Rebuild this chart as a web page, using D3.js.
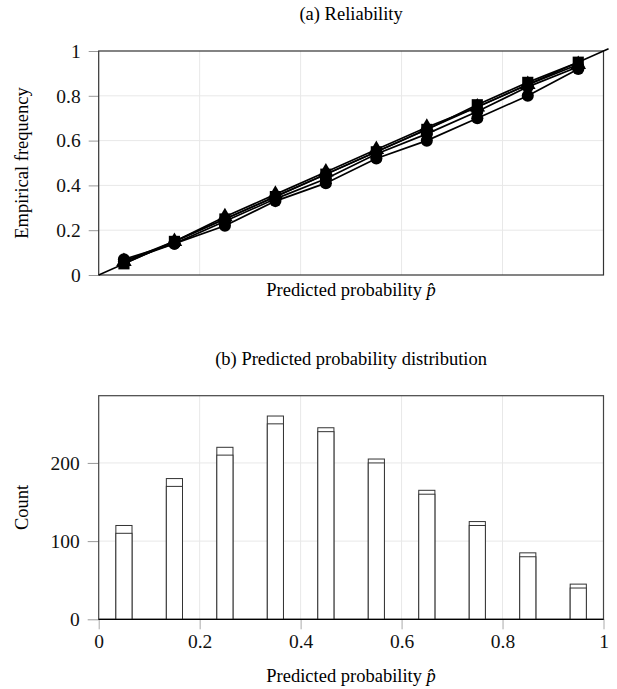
<!DOCTYPE html>
<html><head><meta charset="utf-8">
<script src="https://cdn.jsdelivr.net/npm/d3@7"></script>
<style>body{margin:0;background:#fff}svg{display:block}</style>
</head><body>
<script>
const bins = [0.05,0.15,0.25,0.35,0.45,0.55,0.65,0.75,0.85,0.95];
const relCircle  = [0.07,0.14,0.22,0.33,0.41,0.52,0.60,0.70,0.80,0.92];
const relDiamond = [0.06,0.14,0.24,0.34,0.43,0.54,0.63,0.73,0.84,0.93];
const relTriangle= [0.06,0.15,0.26,0.36,0.46,0.56,0.66,0.75,0.85,0.94];
const relSquare  = [0.05,0.15,0.25,0.35,0.45,0.55,0.65,0.76,0.86,0.95];
const countsA = [120,180,220,260,245,205,165,125,85,45];
const countsB = [110,170,210,250,240,200,160,120,80,40];
const xTicks = [0,0.2,0.4,0.6,0.8,1];
const yTicksA = [0,0.2,0.4,0.6,0.8,1];
const yTicksB = [0,100,200];

const W=617,H=689;
const svg=d3.select("body").append("svg").attr("width",W).attr("height",H);
const serif="'Liberation Serif','Times New Roman',serif";
const LF=18.5, TF=19.5;
const L=98.7,R=603.5;
const x=d3.scaleLinear().domain([0,1]).range([L,R]);

// ---------- (a) Reliability ----------
const yA=d3.scaleLinear().domain([0,1]).range([275,51]);
const gA=svg.append("g");
gA.append("text").attr("x",(L+R)/2).attr("y",20).attr("text-anchor","middle")
  .attr("font-family",serif).attr("font-size",LF).text("(a) Reliability");
gA.selectAll(".gx").data(xTicks.slice(1,-1)).join("line")
  .attr("x1",d=>x(d)).attr("x2",d=>x(d)).attr("y1",yA(0)).attr("y2",yA(1))
  .attr("stroke","#e8e8e8").attr("stroke-width",1);
gA.selectAll(".gy").data(yTicksA.slice(1,-1)).join("line")
  .attr("y1",d=>yA(d)).attr("y2",d=>yA(d)).attr("x1",L).attr("x2",R)
  .attr("stroke","#e8e8e8").attr("stroke-width",1);
const axA=gA.append("g").attr("transform",`translate(${L},0)`)
  .call(d3.axisLeft(yA).tickValues(yTicksA).tickFormat(d=>d3.format("~g")(d)).tickSize(10).tickPadding(8));
axA.select(".domain").remove();
axA.selectAll("line").attr("stroke","#999");
axA.selectAll("text").attr("font-family",serif).attr("font-size",TF).attr("fill","#111");
gA.append("rect").attr("x",L).attr("y",yA(1)).attr("width",R-L).attr("height",yA(0)-yA(1))
  .attr("fill","none").attr("stroke","#333").attr("stroke-width",1.2);
gA.append("line").attr("x1",x(0)).attr("y1",yA(0)).attr("x2",x(1.01)).attr("y2",yA(1.01))
  .attr("stroke","#000").attr("stroke-width",1.5);
const series=[
  {v:relCircle,m:d3.symbolCircle,s:115},
  {v:relDiamond,m:d3.symbolCircle,s:115},
  {v:relTriangle,m:d3.symbolTriangle,s:105},
  {v:relSquare,m:d3.symbolSquare,s:125}
];
const line=d3.line().x((d,i)=>x(bins[i])).y(d=>yA(d));
series.forEach(s=>{
  gA.append("path").attr("d",line(s.v)).attr("fill","none").attr("stroke","#000").attr("stroke-width",1.7);
});
series.forEach(s=>{
  gA.selectAll(null).data(s.v).join("path")
    .attr("transform",(d,i)=>`translate(${x(bins[i])},${yA(d)})`)
    .attr("d",d3.symbol().type(s.m).size(s.s)).attr("fill","#000");
});
gA.append("text").attr("x",(L+R)/2).attr("y",296).attr("text-anchor","middle")
  .attr("font-family",serif).attr("font-size",LF)
  .html("Predicted probability <tspan font-style='italic'>p̂</tspan>");
gA.append("text").attr("transform",`translate(28,${(yA(0)+yA(1))/2}) rotate(-90)`)
  .attr("text-anchor","middle").attr("font-family",serif).attr("font-size",LF).text("Empirical frequency");

// ---------- (b) Distribution ----------
const yB=d3.scaleLinear().domain([0,286]).range([619.3,395.7]);
const gB=svg.append("g");
gB.append("text").attr("x",(L+R)/2).attr("y",365).attr("text-anchor","middle")
  .attr("font-family",serif).attr("font-size",LF).text("(b) Predicted probability distribution");
gB.selectAll(".gx").data(xTicks.slice(1,-1)).join("line")
  .attr("x1",d=>x(d)).attr("x2",d=>x(d)).attr("y1",yB(0)).attr("y2",yB(286))
  .attr("stroke","#e8e8e8").attr("stroke-width",1);
gB.selectAll(".gy").data(yTicksB.slice(1)).join("line")
  .attr("y1",d=>yB(d)).attr("y2",d=>yB(d)).attr("x1",L).attr("x2",R)
  .attr("stroke","#e8e8e8").attr("stroke-width",1);
const ayB=gB.append("g").attr("transform",`translate(${L},0)`)
  .call(d3.axisLeft(yB).tickValues(yTicksB).tickSize(11).tickPadding(8));
ayB.select(".domain").remove();
ayB.selectAll("line").attr("stroke","#999");
ayB.selectAll("text").attr("font-family",serif).attr("font-size",TF).attr("fill","#111");
const axB=gB.append("g").attr("transform",`translate(0,${yB(0)})`)
  .call(d3.axisBottom(x).tickValues(xTicks).tickFormat(d=>d3.format("~g")(d)).tickSize(10).tickPadding(5));
axB.select(".domain").remove();
axB.selectAll("line").attr("stroke","#aaa");
axB.selectAll("text").attr("font-family",serif).attr("font-size",TF).attr("fill","#111");
gB.append("rect").attr("x",L).attr("y",yB(286)).attr("width",R-L).attr("height",yB(0)-yB(286))
  .attr("fill","none").attr("stroke","#444").attr("stroke-width",1.2);
const bw=0.032;
[countsA,countsB].forEach(c=>{
  gB.selectAll(null).data(c).join("rect")
    .attr("x",(d,i)=>x(bins[i]-bw/2)).attr("width",x(bw)-x(0))
    .attr("y",d=>yB(d)).attr("height",d=>yB(0)-yB(d))
    .attr("fill","#fff").attr("stroke","#333").attr("stroke-width",1);
});
gB.append("line").attr("x1",L).attr("x2",R).attr("y1",yB(0)).attr("y2",yB(0)).attr("stroke","#000").attr("stroke-width",1.2);
gB.append("text").attr("x",(L+R)/2).attr("y",682).attr("text-anchor","middle")
  .attr("font-family",serif).attr("font-size",LF)
  .html("Predicted probability <tspan font-style='italic'>p̂</tspan>");
gB.append("text").attr("transform",`translate(28,${(yB(0)+yB(286))/2}) rotate(-90)`)
  .attr("text-anchor","middle").attr("font-family",serif).attr("font-size",LF).text("Count");
</script>
</body></html>
